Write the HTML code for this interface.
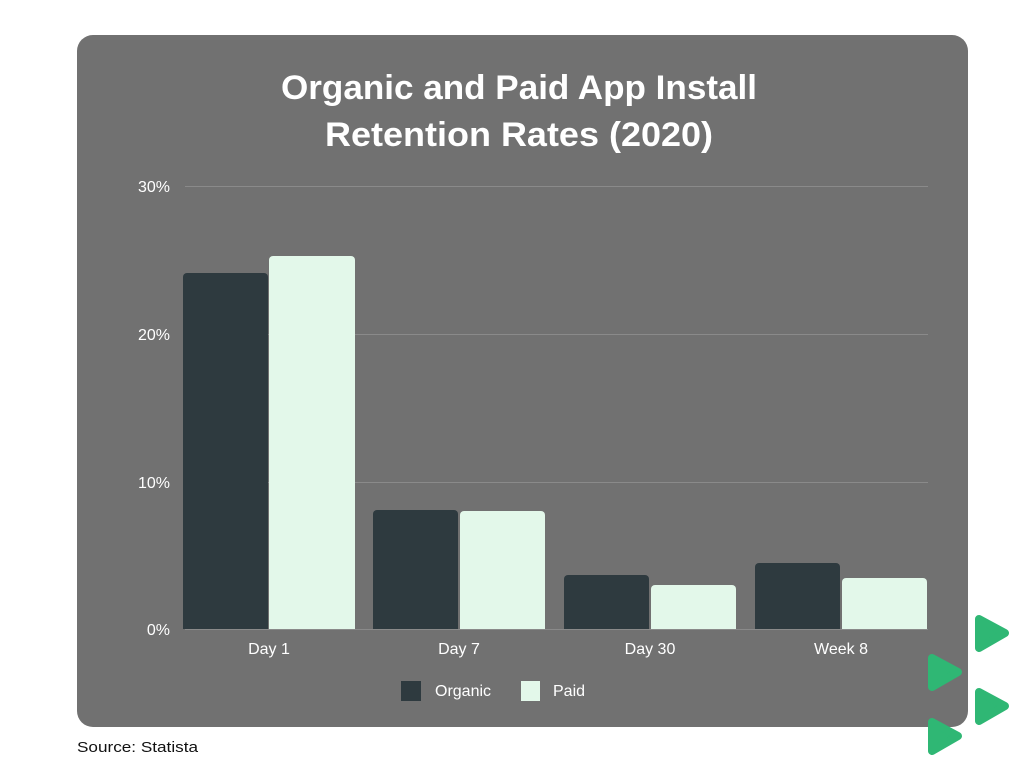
<!DOCTYPE html>
<html><head><meta charset="utf-8"><style>
html,body{margin:0;padding:0;background:#fff;width:1024px;height:768px;overflow:hidden}
</style></head><body>
<svg width="1024" height="768" xmlns="http://www.w3.org/2000/svg" font-family="Liberation Sans, sans-serif">
<rect x="77" y="35" width="891" height="692" rx="16" fill="#717171"/>
<text x="519" y="99" text-anchor="middle" font-size="34" font-weight="bold" fill="#fff" textLength="476" lengthAdjust="spacingAndGlyphs">Organic and Paid App Install</text>
<text x="519" y="146" text-anchor="middle" font-size="34" font-weight="bold" fill="#fff" textLength="388" lengthAdjust="spacingAndGlyphs">Retention Rates (2020)</text>
<g stroke="#8a8a8a" stroke-width="1">
<line x1="185" y1="186.5" x2="928" y2="186.5"/>
<line x1="185" y1="334.5" x2="928" y2="334.5"/>
<line x1="185" y1="482.5" x2="928" y2="482.5"/>
<line x1="185" y1="629.5" x2="928" y2="629.5"/>
</g>
<g font-size="16" fill="#fff" text-anchor="end">
<text x="170" y="192">30%</text>
<text x="170" y="340">20%</text>
<text x="170" y="488">10%</text>
<text x="170" y="635">0%</text>
</g>
<g fill="#2e3a3f">
<path d="M183 629V277a4 4 0 0 1 4-4h77a4 4 0 0 1 4 4V629z"/>
<path d="M373 629V514a4 4 0 0 1 4-4h77a4 4 0 0 1 4 4V629z"/>
<path d="M564 629V579a4 4 0 0 1 4-4h77a4 4 0 0 1 4 4V629z"/>
<path d="M755 629V567a4 4 0 0 1 4-4h77a4 4 0 0 1 4 4V629z"/>
</g>
<g fill="#e3f8ea">
<path d="M269 629V260a4 4 0 0 1 4-4h78a4 4 0 0 1 4 4V629z"/>
<path d="M460 629V515a4 4 0 0 1 4-4h77a4 4 0 0 1 4 4V629z"/>
<path d="M651 629V589a4 4 0 0 1 4-4h77a4 4 0 0 1 4 4V629z"/>
<path d="M842 629V582a4 4 0 0 1 4-4h77a4 4 0 0 1 4 4V629z"/>
</g>
<g font-size="16" fill="#fff" text-anchor="middle">
<text x="269" y="654">Day 1</text>
<text x="459" y="654">Day 7</text>
<text x="650" y="654">Day 30</text>
<text x="841" y="654">Week 8</text>
</g>
<rect x="401" y="681" width="20" height="20" fill="#2e3a3f"/>
<text x="435" y="696" font-size="16" fill="#fff">Organic</text>
<rect x="521" y="681" width="19" height="20" fill="#e3f8ea"/>
<text x="553" y="696" font-size="16" fill="#fff">Paid</text>
<text x="77" y="752" font-size="15" fill="#111" textLength="121" lengthAdjust="spacingAndGlyphs">Source: Statista</text>
<g fill="#2fb774" stroke="#2fb774" stroke-width="8" stroke-linejoin="round">
<path d="M979 619L1005 633L979 648z"/>
<path d="M932 658L958 672L932 687z"/>
<path d="M979 692L1005 706L979 721z"/>
<path d="M932 722L958 736L932 751z"/>
</g>
</svg>
</body></html>
